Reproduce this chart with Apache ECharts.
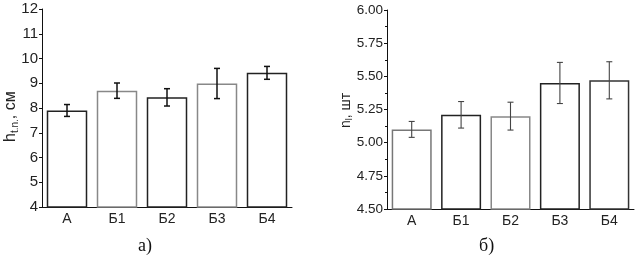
<!DOCTYPE html>
<html><head><meta charset="utf-8">
<script src="https://cdn.jsdelivr.net/npm/echarts@6/dist/echarts.min.js"></script>
<style>html,body{margin:0;padding:0;background:#fff}#c{width:636px;height:265px}</style>
</head><body><div id="c"></div>
<script>
var categories = ['A', 'Б1', 'Б2', 'Б3', 'Б4'];
var heightMean = [7.90, 8.70, 8.43, 8.99, 9.42];
var heightErr  = [0.24, 0.31, 0.35, 0.61, 0.26];
var leafMean   = [5.10, 5.21, 5.20, 5.45, 5.47];
var leafErr    = [0.06, 0.10, 0.105, 0.155, 0.14];
var leftTicks  = { min: 4, max: 12, interval: 1 };
var rightTicks = { min: 4.5, max: 6, interval: 0.25 };
var leftBorders  = ['#222', '#888', '#222', '#888', '#222'];
var rightBorders = ['#777', '#222', '#888', '#222', '#333'];

function barData(vals, borders) {
  return vals.map(function (v, i) {
    return { value: v, itemStyle: { borderColor: borders[i] } };
  });
}
function errData(vals, errs) {
  return vals.map(function (v, i) { return [i, v - errs[i], v + errs[i]]; });
}
function errRender(color, w) {
  return function (params, api) {
    var x = api.value(0);
    var lo = api.coord([x, api.value(1)]);
    var hi = api.coord([x, api.value(2)]);
    var c = 3;
    return { type: 'group', children: [
      { type: 'line', shape: { x1: lo[0], y1: lo[1], x2: hi[0], y2: hi[1] }, style: { stroke: color, lineWidth: w } },
      { type: 'line', shape: { x1: lo[0] - c, y1: lo[1], x2: lo[0] + c, y2: lo[1] }, style: { stroke: color, lineWidth: w } },
      { type: 'line', shape: { x1: hi[0] - c, y1: hi[1], x2: hi[0] + c, y2: hi[1] }, style: { stroke: color, lineWidth: w } }
    ]};
  };
}
var font = 'Liberation Sans, Arial, sans-serif';
function xAx(gi) {
  return {
    type: 'category', gridIndex: gi, data: categories,
    axisLine: { lineStyle: { color: '#111', width: 1 } },
    axisTick: { alignWithLabel: true, inside: true, length: 3, lineStyle: { color: '#111' } },
    axisLabel: { color: '#222', fontFamily: font, fontSize: 14, margin: 5 },
    splitLine: { show: false }
  };
}
function yAx(gi, t, fmt, fs, minor) {
  return {
    type: 'value', gridIndex: gi, min: t.min, max: t.max, interval: t.interval,
    axisLine: { show: true, lineStyle: { color: '#111', width: 1 } },
    axisTick: { show: true, length: 3, lineStyle: { color: '#111' } },
    minorTick: { show: minor, splitNumber: 2, length: 2, lineStyle: { color: '#111' } },
    axisLabel: { color: '#222', fontFamily: font, fontSize: fs, margin: 4, formatter: fmt },
    splitLine: { show: false }
  };
}
var chart = echarts.init(document.getElementById('c'), null, { renderer: 'canvas' });
chart.setOption({
  animation: false,
  backgroundColor: '#fff',
  grid: [
    { left: 42, top: 9, width: 250, height: 198 },
    { left: 387, top: 10, width: 247, height: 199 }
  ],
  xAxis: [xAx(0), xAx(1)],
  yAxis: [
    yAx(0, leftTicks, function (v) { return String(v); }, 15, false),
    yAx(1, rightTicks, function (v) { return v.toFixed(2); }, 13.5, true)
  ],
  series: [
    { type: 'bar', xAxisIndex: 0, yAxisIndex: 0, data: barData(heightMean, leftBorders), barWidth: '81%',
      itemStyle: { color: '#fff', borderWidth: 1.5 } },
    { type: 'custom', xAxisIndex: 0, yAxisIndex: 0, data: errData(heightMean, heightErr),
      renderItem: errRender('#111', 1.5), z: 5 },
    { type: 'bar', xAxisIndex: 1, yAxisIndex: 1, data: barData(leafMean, rightBorders), barWidth: '81%',
      itemStyle: { color: '#fff', borderWidth: 1.5 } },
    { type: 'custom', xAxisIndex: 1, yAxisIndex: 1, data: errData(leafMean, leafErr),
      renderItem: errRender('#444', 1.1), z: 5 }
  ],
  graphic: [
    { type: 'text', x: 2, y: 142, rotation: Math.PI / 2,
      style: { text: '{m|h}{s|t.n.}{m|, см}', fill: '#222',
        rich: { m: { fontFamily: font, fontSize: 16, fill: '#222' }, s: { fontFamily: font, fontSize: 10, fill: '#222', padding: [8, 0, 0, 0] } } } },
    { type: 'text', x: 338, y: 128, rotation: Math.PI / 2,
      style: { text: '{m|n}{s|l}{m|, шт}', fill: '#222',
        rich: { m: { fontFamily: font, fontSize: 14, fill: '#222' }, s: { fontFamily: font, fontSize: 9, fill: '#222', padding: [7, 0, 0, 0] } } } },
    { type: 'text', left: 138, top: 237, style: { text: 'а)', font: '18px "Liberation Serif", serif', fill: '#111' } },
    { type: 'text', left: 479, top: 237, style: { text: 'б)', font: '18px "Liberation Serif", serif', fill: '#111' } }
  ]
});
</script></body></html>
